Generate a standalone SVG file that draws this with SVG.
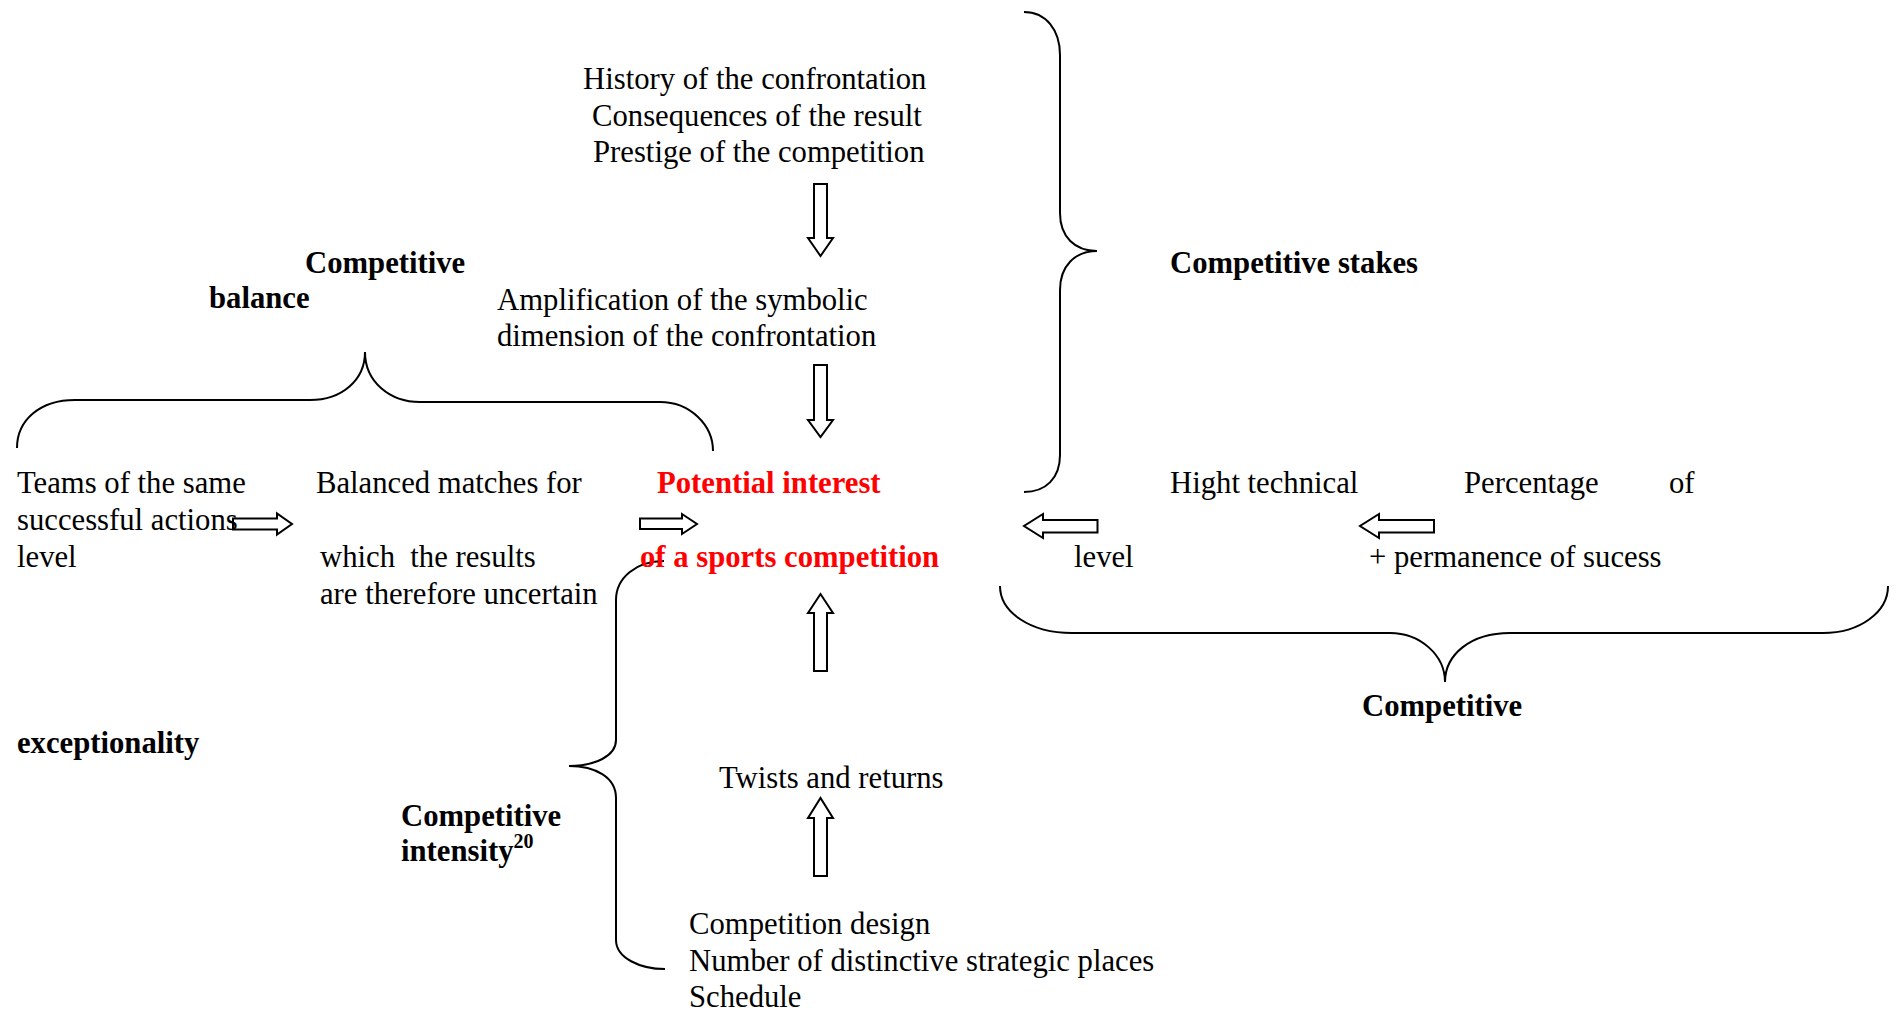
<svg xmlns="http://www.w3.org/2000/svg" width="1897" height="1015" viewBox="0 0 1897 1015">
  <style>
    text { font-family: "Liberation Serif", "Times New Roman", serif; font-size: 30.7px; fill: #000; white-space: pre; }
    .b { font-weight: bold; }
    .red { font-weight: bold; fill: #ff0000; }
    .sup { font-size: 20px; font-weight: bold; }
    .brace { fill: none; stroke: #000; stroke-width: 2; }
    .arrow { fill: none; stroke: #000; stroke-width: 2; stroke-linejoin: miter; }
  </style>
  <rect width="1897" height="1015" fill="#fff"/>

  <!-- Braces grouping the factors -->
  <g id="braces">
    <path id="brace-balance" class="brace" d="M17,448 C17,420 40,400 75,400 L310,400 C342,400 365,380 365,352 C365,382 390,402 420,402 L660,402 C690,402 713,425 713,451"/>
    <path id="brace-stakes" class="brace" d="M1024,12 C1046,12 1060,30 1060,55 L1060,213 C1060,237 1075,251 1097,251 C1075,251 1060,266 1060,290 L1060,455 C1060,478 1046,492 1024,492"/>
    <path id="brace-exceptionality" class="brace" d="M1000,586 C1000,612 1030,633 1072,633 L1390,633 C1420,633 1445,655 1445,682 C1445,655 1470,633 1510,633 L1823,633 C1860,633 1888,612 1888,586"/>
    <path id="brace-intensity" class="brace" d="M664,561 C636,561 616,578 616,600 L616,740 C616,756 595,766 569,766 C595,766 616,777 616,798 L616,940 C616,958 640,969 665,969"/>
  </g>

  <!-- Block arrows between the elements -->
  <g id="connectors">
    <path class="arrow" d="M814,184 H827 V238 H833 L820.5,256 L808,238 H814 Z"/>
    <path class="arrow" d="M814,365 H827 V420 H833 L820.5,437 L808,420 H814 Z"/>
    <path class="arrow" d="M814,671 H827 V613 H833 L820.5,594 L808,613 H814 Z"/>
    <path class="arrow" d="M814,876 H827 V818 H833 L820.5,798 L808,818 H814 Z"/>
    <path class="arrow" d="M233,518.5 H277 V513.5 L292,524 L277,534.5 V529.5 H233 Z"/>
    <path class="arrow" d="M640,518.5 H682 V514 L697,524 L682,534 V529 H640 Z"/>
    <path class="arrow" d="M1097.5,520 H1043 V514 L1024,526 L1043,538 V532.5 H1097.5 Z"/>
    <path class="arrow" d="M1434,520 H1379 V514 L1360,526 L1379,538 V532.5 H1434 Z"/>
  </g>

  <g id="node-stakes-sources">
    <text x="583" y="89">History of the confrontation</text>
    <text x="592" y="125.5">Consequences of the result</text>
    <text x="593" y="162">Prestige of the competition</text>
  </g>

  <g id="node-amplification">
    <text x="497" y="310">Amplification of the symbolic</text>
    <text x="497" y="346">dimension of the confrontation</text>
  </g>

  <g id="label-balance">
    <text class="b" x="305" y="273">Competitive</text>
    <text class="b" x="209" y="308">balance</text>
  </g>

  <g id="label-stakes">
    <text class="b" x="1170" y="273">Competitive stakes</text>
  </g>

  <g id="node-teams">
    <text x="17" y="493">Teams of the same</text>
    <text x="17" y="530">successful actions</text>
    <text x="17" y="567">level</text>
  </g>

  <g id="node-balanced">
    <text x="316" y="493">Balanced matches for</text>
    <text x="320" y="567">which  the results</text>
    <text x="320" y="604">are therefore uncertain</text>
  </g>

  <g id="node-interest">
    <text class="red" x="657" y="493">Potential interest</text>
    <text class="red" x="640" y="567">of a sports competition</text>
  </g>

  <g id="node-technical">
    <text x="1170" y="493">Hight technical</text>
    <text x="1074" y="567">level</text>
  </g>

  <g id="node-success">
    <text x="1464" y="493">Percentage</text>
    <text x="1669" y="493">of</text>
    <text x="1369" y="567">+ permanence of sucess</text>
  </g>

  <g id="label-exceptionality">
    <text class="b" x="1362" y="716">Competitive</text>
    <text class="b" x="17" y="753">exceptionality</text>
  </g>

  <g id="label-intensity">
    <text class="b" x="401" y="826">Competitive</text>
    <text class="b" x="401" y="861">intensity<tspan class="sup" dy="-13">20</tspan></text>
  </g>

  <g id="node-twists">
    <text x="719" y="788">Twists and returns</text>
  </g>

  <g id="node-design">
    <text x="689" y="934">Competition design</text>
    <text x="689" y="971">Number of distinctive strategic places</text>
    <text x="689" y="1007">Schedule</text>
  </g>
</svg>
